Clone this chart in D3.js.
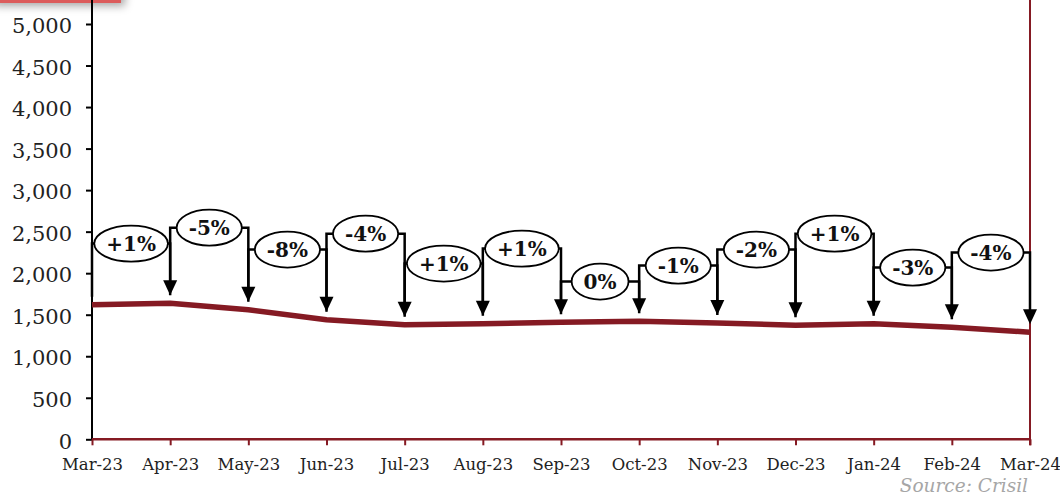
<!DOCTYPE html>
<html>
<head>
<meta charset="utf-8">
<script src="https://cdn.jsdelivr.net/npm/d3@7/dist/d3.min.js"></script>
<style>
  html, body { margin: 0; padding: 0; background: #fff; }
  svg { display: block; }
</style>
</head>
<body>
<svg id="chart" width="1060" height="498"></svg>
<script>
// ---- data ----
const months = ["Mar-23","Apr-23","May-23","Jun-23","Jul-23","Aug-23","Sep-23","Oct-23","Nov-23","Dec-23","Jan-24","Feb-24","Mar-24"];
const volumes = [1619, 1638, 1559, 1439, 1380, 1391, 1410, 1422, 1400, 1374, 1391, 1350, 1290];
const changeLabels = ["+1%","-5%","-8%","-4%","+1%","+1%","0%","-1%","-2%","+1%","-3%","-4%"];
const labelLevels = [2356, 2548, 2284, 2476, 2116, 2296, 1899, 2091, 2284, 2476, 2067, 2248];
const yTicks = [0, 500, 1000, 1500, 2000, 2500, 3000, 3500, 4000, 4500, 5000];
const sourceText = "Source: Crisil";

// ---- layout ----
const svg = d3.select("#chart");
const plotL = 92, plotR = 1030, plotB = 439.3, plotT = 24;
const lineColor = "#851a23";
const font = "'DejaVu Serif', Georgia, serif";

const x = d3.scalePoint().domain(months).range([plotL, plotR]);
const y = d3.scaleLinear().domain([0, 5000]).range([plotB, plotT]);

// shadow filter + top-left red box fragment
const defs = svg.append("defs");
const f = defs.append("filter").attr("id", "sh").attr("x", "-20%").attr("y", "-50%").attr("width", "150%").attr("height", "300%");
f.append("feDropShadow").attr("dx", 4).attr("dy", 3).attr("stdDeviation", 4).attr("flood-color", "#000").attr("flood-opacity", 0.35);
svg.append("rect").attr("x", -10).attr("y", -20).attr("width", 131).attr("height", 23)
  .attr("fill", "#dc5b5b").attr("filter", "url(#sh)");

// right border
svg.append("line").attr("x1", plotR).attr("x2", plotR).attr("y1", 0).attr("y2", plotB + 6)
  .attr("stroke", lineColor).attr("stroke-width", 2);

// y axis
const yAxis = d3.axisLeft(y).tickValues(yTicks).tickFormat(d3.format(",")).tickSize(6).tickPadding(14);
const gy = svg.append("g").attr("transform", `translate(${plotL},0)`).call(yAxis);
gy.select(".domain").remove();
gy.selectAll(".tick line").attr("stroke", "#000").attr("stroke-width", 2);
gy.selectAll(".tick text").attr("font-family", font).attr("font-size", 21).attr("fill", "#222")
  .attr("dy", "0.32em").attr("y", 2);
svg.append("line").attr("x1", plotL).attr("x2", plotL).attr("y1", 0).attr("y2", plotB)
  .attr("stroke", "#000").attr("stroke-width", 2);

// x axis
const xAxis = d3.axisBottom(x).tickSize(6);
const gx = svg.append("g").attr("transform", `translate(0,${plotB})`).call(xAxis);
gx.select(".domain").attr("stroke", lineColor).attr("stroke-width", 2.5).attr("d", `M${plotL},0H${plotR}`);
gx.selectAll(".tick line").attr("stroke", lineColor).attr("stroke-width", 2);
gx.selectAll(".tick text").attr("font-family", font).attr("font-size", 16.5).attr("fill", "#222")
  .attr("y", 31).attr("dy", 0);

// main line
svg.append("path").datum(volumes)
  .attr("fill", "none").attr("stroke", lineColor).attr("stroke-width", 5.5)
  .attr("stroke-linejoin", "round").attr("stroke-linecap", "butt")
  .attr("d", d3.line().x((d, i) => x(months[i])).y(d => y(d)));

// change annotations
const gap = 8, headW = 7, headH = 15;
const ann = svg.append("g");
changeLabels.forEach((lab, i) => {
  const x0 = x(months[i]), x1 = x(months[i + 1]);
  const h = y(labelLevels[i]);
  const tip0 = y(volumes[i]) - gap, tip1 = y(volumes[i + 1]) - gap;
  const cx = (x0 + x1) / 2;
  const g = ann.append("g");
  const t = g.append("text").attr("x", cx).attr("y", h).attr("dy", "0.36em")
    .attr("text-anchor", "middle").attr("font-family", font).attr("font-weight", "bold")
    .attr("font-size", 20).attr("fill", "#111").text(lab);
  const tw = t.node().getComputedTextLength();
  const rx = Math.max(tw / 2 + 12, 27), ry = 18;
  g.insert("ellipse", "text").attr("cx", cx).attr("cy", h).attr("rx", rx).attr("ry", ry)
    .attr("fill", "#fff").attr("stroke", "#000").attr("stroke-width", 1.8);
  // bracket
  g.insert("path", "ellipse")
    .attr("d", `M${x0},${tip0}V${h}H${cx - rx}M${cx + rx},${h}H${x1}V${tip1 - headH + 1}`)
    .attr("fill", "none").attr("stroke", "#000").attr("stroke-width", 2.5);
  g.append("path")
    .attr("d", `M${x1 - headW},${tip1 - headH}L${x1 + headW},${tip1 - headH}L${x1},${tip1}Z`)
    .attr("fill", "#000");
});

// source
svg.append("text").attr("x", 1028).attr("y", 492).attr("text-anchor", "end")
  .attr("font-family", font).attr("font-style", "italic").attr("font-size", 18.5)
  .attr("fill", "#a6a6a6").text(sourceText);
</script>
</body>
</html>
